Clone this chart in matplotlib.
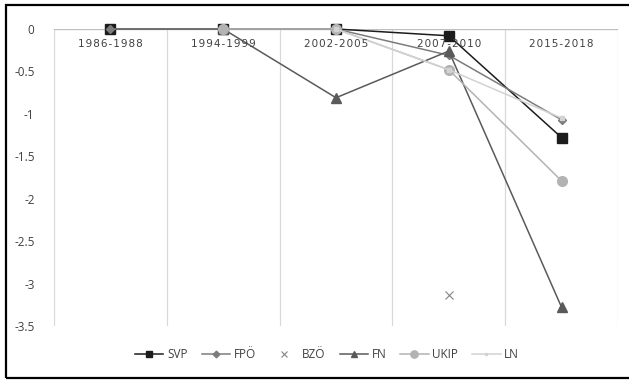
import numpy as np
import matplotlib
matplotlib.use("Agg")
import matplotlib.pyplot as plt
from matplotlib.patches import Rectangle

periods = ["1986-1988", "1994-1999", "2002-2005", "2007-2010", "2015-2018"]
nan = np.nan

svp = [0, 0, 0, -0.08, -1.28]
fpo = [0, 0, 0, -0.31, -1.07]
bzo = [nan, nan, nan, -3.13, nan]
fn = [nan, 0, -0.81, -0.26, -3.28]
ukip = [nan, 0, 0, -0.48, -1.79]
ln = [nan, nan, 0, -0.48, -1.05]

series = [
    ("SVP", svp, dict(color="#1c1c1c", marker="s", ms=6.5, lw=1.1, mec="#1c1c1c")),
    ("FPÖ", fpo, dict(color="#7c7c7c", marker="D", ms=4.5, lw=1.1)),
    ("BZÖ", bzo, dict(color="#858585", marker="x", ms=6, lw=0, mew=0.8)),
    ("FN", fn, dict(color="#5a5a5a", marker="^", ms=6.5, lw=1.1)),
    ("UKIP", ukip, dict(color="#b3b3b3", marker="o", ms=7, lw=1.1)),
    ("LN", ln, dict(color="#d2d2d2", marker="s", ms=2.5, lw=1.1)),
]

plt.rcParams["font.family"] = ["Open Sans", "DejaVu Sans"]

fig = plt.figure(figsize=(6.29, 3.80), dpi=100)
ax = fig.add_axes([54 / 629, 1 - 326 / 380, (618 - 54) / 629, (326 - 29) / 380])

x = np.arange(len(periods))
for name, vals, style in series:
    ax.plot(x, vals, label=name, clip_on=False, **style)

ax.set_xlim(-0.5, len(periods) - 0.5)
ax.set_ylim(-3.5, 0)
ax.set_yticks(np.arange(-3.5, 0.01, 0.5))
ax.set_yticklabels(["-3.5", "-3", "-2.5", "-2", "-1.5", "-1", "-0.5", "0"])
ax.tick_params(axis="y", length=0, pad=14, labelsize=8.5, labelcolor="#404040")
ax.set_xticks([])

for b in np.arange(-0.5, len(periods), 1.0):
    ax.axvline(b, color="#d9d9d9", lw=0.9, zorder=0)
for s in ax.spines.values():
    s.set_visible(False)
ax.axhline(0, color="#bfbfbf", lw=1.0, zorder=0.5)

for i, lbl in enumerate(periods):
    ax.annotate("\u200a".join(lbl), (i, 0), xytext=(0, -15), textcoords="offset pixels",
                ha="center", va="center", fontsize=7.5, color="#404040",
                family=["DejaVu Sans"])

fig.legend(loc="center", bbox_to_anchor=(0.52, 1 - 355 / 380), ncol=6, frameon=False,
           fontsize=8.5, handlelength=2.4, columnspacing=1.2, handletextpad=0.3,
           markerscale=0.75, labelcolor="#404040")

fig.patches.append(Rectangle((5.5 / 629, 1 - 378 / 380), 1.0, 373 / 380,
                             transform=fig.transFigure, fill=False, ec="black", lw=1.6))

fig.savefig("out.png", dpi=100)
